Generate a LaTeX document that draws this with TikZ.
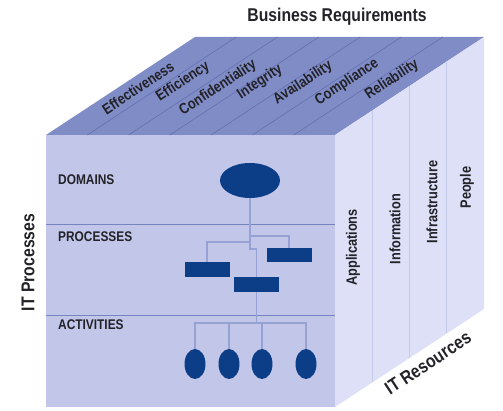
\documentclass[tikz,border=0pt]{standalone}
\usepackage{fontspec}
\usetikzlibrary{shapes.geometric}
\newfontfamily\cubefont[FakeStretch=0.85]{Liberation Sans}

\definecolor{frontblue}{RGB}{194,199,234}
\definecolor{topblue}{RGB}{128,140,198}
\definecolor{sideblue}{RGB}{221,224,246}
\definecolor{navy}{RGB}{12,62,136}
\definecolor{linkblue}{RGB}{150,162,212}
\definecolor{ruleblue}{RGB}{118,132,192}
\definecolor{stripblue}{RGB}{100,112,176}
\definecolor{ink}{RGB}{34,34,40}

\def\frontface{(46,4) rectangle (335,276)}
\def\topface{(46,276) -- (195,374) -- (484,374) -- (335,276) -- cycle}
\def\sideface{(335,4) -- (484,102) -- (484,374) -- (335,276) -- cycle}

\tikzset{
  axislabel/.style={font=\cubefont\bfseries\fontsize{18.5}{20}\selectfont, text=ink, inner sep=0},
  rowlabel/.style={font=\cubefont\bfseries\fontsize{14}{16}\selectfont, text=ink, inner sep=0, anchor=west},
  facelabel/.style={font=\cubefont\bfseries\fontsize{15}{17}\selectfont, text=ink, inner sep=0},
  domainnode/.style={ellipse, fill=navy, inner sep=0, minimum width=60, minimum height=35},
  procnode/.style={rectangle, fill=navy, inner sep=0, minimum width=45, minimum height=15},
  actnode/.style={ellipse, fill=navy, inner sep=0, minimum width=21, minimum height=30},
  link/.style={draw=linkblue, line width=1.1pt},
  divider/.style={draw=ruleblue, line width=0.9pt}
}

\begin{document}
\begin{tikzpicture}[x=1pt,y=1pt]
  \useasboundingbox (0,0) rectangle (503,411);

  % the three faces of the cube
  \fill[frontblue] \frontface;
  \fill[topblue] \topface;
  \fill[sideblue] \sideface;

  % strips on top and side
  \foreach \k in {1,...,6}
    \draw[stripblue, line width=0.6pt] (46+\k*41.29,276) -- ++(149,98);
  \foreach \k in {1,2,3}
    \draw[linkblue!35!sideblue, line width=0.6pt] (335+\k*37.25,4+\k*24.5) -- (335+\k*37.25,276+\k*24.5);

  % rows of the front face
  \draw[divider] (46,187) -- (335,187);
  \draw[divider] (46,96) -- (335,96);

  \node[rowlabel] (domains) at (58,231) {DOMAINS};
  \node[rowlabel] (processes) at (58,174) {PROCESSES};
  \node[rowlabel] (activities) at (58,86) {ACTIVITIES};

  % tree
  \node[domainnode] (domain) at (250,230.5) {};
  \node[procnode] (procL) at (207,141.5) {};
  \node[procnode, minimum height=14] (procR) at (289,156) {};
  \node[procnode] (procM) at (256.5,126.5) {};
  \foreach \i/\x in {1/195,2/229,3/262,4/306}
    \node[actnode] (act\i) at (\x,47) {};

  \coordinate (jR) at (250,175);
  \coordinate (jL) at (250,169);
  \coordinate (bus) at (256.5,88);

  \draw[link] (domain.south) -- (250,162) -| (procM.north);
  \draw[link] (jR) -| (procR.north);
  \draw[link] (jL) -| (procL.north);
  \draw[link] (procM.south) -- (bus);
  \draw[link] (act1.north) |- (bus) -| (act4.north);
  \foreach \i in {2,3}
    \draw[link] (act\i.north) -- (act\i.north |- bus);

  % business requirements
  \foreach \name/\x/\y in {Effectiveness/138/323, Efficiency/183/329,
      Confidentiality/218/323, Integrity/260/329, Availability/303/328,
      Compliance/347/329, Reliability/392/331}
    \node[facelabel, rotate=33.3] at (\x,\y) {\name};

  % it resources
  \node[facelabel, rotate=90] (apps) at (353,163.5) {Applications};
  \node[facelabel, rotate=90] (info) at (395,182) {Information};
  \node[facelabel, rotate=90] (infra) at (432,209) {Infrastructure};
  \node[facelabel, rotate=90] (people) at (467,223.5) {People};

  \node[axislabel] (business) at (337,394) {Business Requirements};
  \node[axislabel, rotate=90] (itproc) at (28,148.5) {IT Processes};
  \node[axislabel, rotate=33.3] (itres) at (428,48) {IT Resources};

\end{tikzpicture}
\end{document}
